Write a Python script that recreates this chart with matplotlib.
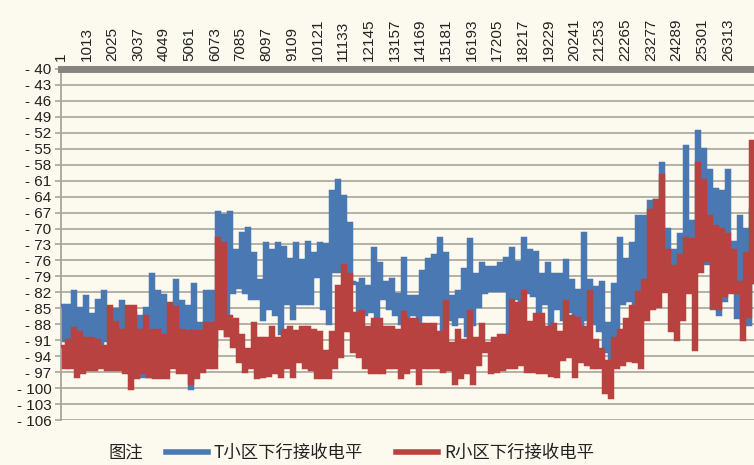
import numpy as np
import matplotlib
matplotlib.use("Agg")
import matplotlib.pyplot as plt
from matplotlib.lines import Line2D

# ---- data (per ~237-sample column: upper / lower envelope) ----
T_hi = [-84.3, -84.3, -81.8, -85, -82.7, -86, -83.5, -81.8, -86, -85.2, -83.7, -86.5, -85.8, -86.5, -85, -78.6,
        -81.8, -82.5, -86, -79.6, -83.7, -84.6, -80.5, -87.7, -81.8, -81.8, -66.8, -67.5, -66.8, -74, -70.8,
        -69.9, -74.6, -79.6, -72.7, -74, -72.7, -73.5, -75.8, -72.7, -76, -72.5, -74.6, -72.7, -73, -63,
        -60.8, -63.9, -69, -80.2, -79.5, -80.8, -73.6, -76.5, -80, -79.5, -82.4, -75.5, -82.7, -82.7, -78,
        -75.8, -75, -71.8, -74.6, -82.7, -81.8, -77.7, -72, -78.5, -76.5, -77.3, -77.3, -76.5, -75.5, -73.6,
        -76.3, -71.8, -74, -74.5, -78.5, -76.5, -78.6, -78.6, -76, -79.6, -81.5, -70.8, -79.6, -81, -80,
        -87.7, -80.5, -71.8, -75.8, -72.7, -67.7, -67.7, -64.9, -64.6, -57.7, -70, -74, -71, -54.5, -68.5,
        -51.7, -55, -58.9, -62.6, -63, -59, -72.6, -67.6, -70, -66.4]
T_lo = [-91, -92, -90, -93, -91, -92, -93, -91, -92, -96, -96, -97, -97.7, -97.7, -97.7, -96, -92, -92, -95,
        -93, -94, -100, -94, -94, -93, -92, -88, -90, -82, -81, -82, -83, -83, -87, -85, -86, -89.6, -84,
        -86.8, -84, -84, -84, -79, -85, -87.7, -78, -78, -79, -80, -89, -86, -85.5, -90, -83, -85, -86,
        -87.7, -87.7, -86, -88, -86, -86, -86, -96, -87, -88, -86.5, -90, -88, -84.6, -82, -81.5, -81.5,
        -81.5, -90, -83, -83.5, -82, -82.5, -87.5, -84, -88, -85, -87, -85.5, -93.5, -90, -87, -87.7, -89,
        -93, -95.6, -90, -84, -83.5, -84, -82.7, -82, -80, -79, -78, -78, -80.8, -79.5, -77.6, -78, -72,
        -76.5, -85, -86, -83.5, -80.3, -86.7, -87.6, -88, -80]
R_hi = [-92, -91, -88.7, -89.5, -90.5, -90.5, -91, -92, -84.6, -87.5, -89, -84.6, -84.6, -89, -86.5, -89, -89,
        -90, -84, -84.8, -89, -89.3, -89.3, -89.3, -87.7, -87.7, -71.8, -72.7, -86.5, -87, -90, -92.7, -87.7,
        -90.5, -90.5, -88.5, -90.5, -89, -88.5, -89.3, -88.5, -88.5, -89, -89.5, -93, -89.5, -80.8, -76.8,
        -78.5, -85.8, -85.5, -88.5, -87, -87, -88.5, -88.5, -89, -85.6, -87, -87, -88, -88, -88, -89.5,
        -83.6, -91.5, -89, -91, -85.5, -90.5, -88, -91.5, -90.5, -90, -90, -83.4, -84, -81.8, -87.5, -86,
        -86, -88.5, -88, -89.5, -83.6, -86.5, -86.8, -88.5, -81.8, -91, -92.7, -95, -90.5, -89, -87, -84.6,
        -82, -79.6, -66.5, -64.6, -59.9, -74, -77, -75, -71.8, -72, -57.6, -60.8, -67.6, -69.5, -70, -71,
        -74, -80, -74.6, -53.6]
R_lo = [-96, -96, -97.7, -97, -96.5, -96.5, -96, -96.5, -96.5, -96.5, -97, -100, -98, -97, -97.7, -98, -98,
        -98, -96, -97, -97, -99, -98, -96.8, -96, -96, -88.7, -90, -92, -95, -96.8, -96, -98, -97.7, -97.5,
        -97, -97.7, -96, -97.7, -95, -96, -96.5, -98, -98, -98, -96, -94, -89, -93, -94, -96, -97, -97, -97,
        -96, -96, -98, -97, -96, -99, -96, -96, -96, -96.8, -96.5, -99, -98, -97, -99, -95.5, -93, -97,
        -96.8, -96.5, -96, -96, -95.5, -96.8, -96.8, -97, -97, -97.5, -97.7, -94.5, -94, -97.7, -95, -95.5,
        -96, -96, -100.8, -101.7, -96, -95.5, -94.7, -95, -96, -87, -85, -84.5, -81.8, -89, -90.8, -87, -82,
        -92.6, -78, -76, -84.8, -85, -82.5, -82, -82, -90.8, -86.5, -80]

xtick_values = [1, 1013, 2025, 3037, 4049, 5061, 6073, 7085, 8097, 9109, 10121, 11133, 12145, 13157,
                14169, 15181, 16193, 17205, 18217, 19229, 20241, 21253, 22265, 23277, 24289, 25301, 26313]
ytick_values = list(range(-106, -39, 3))
series_names = ["T小区下行接收电平", "R小区下行接收电平"]
legend_title = "图注"

# ---- build series (alternate upper / lower envelope samples) ----
col_step = 237
n = len(T_hi)
idx = 1 + col_step / 2 * np.arange(2 * n)
T_series = np.column_stack([T_hi, T_lo]).ravel()
R_series = np.column_stack([R_hi, R_lo]).ravel()

BG = "#fcf9ee"
BLUE = "#4a78b2"
RED = "#b8423f"
GRID = "#a9a499"

plt.rcParams["font.family"] = ["Liberation Sans", "DejaVu Sans"]

fig = plt.figure(figsize=(7.54, 4.65), dpi=100)
fig.patch.set_facecolor(BG)
ax = fig.add_axes([61 / 754, 1 - 420 / 465, 1 - 61 / 754, (420 - 69) / 465])
ax.set_facecolor(BG)

ax.plot(idx, T_series, color=BLUE, lw=2.5, drawstyle="steps-mid", solid_joinstyle="miter", zorder=3)
ax.plot(idx, R_series, color=RED, lw=2.5, drawstyle="steps-mid", solid_joinstyle="miter", zorder=4)

ax.set_ylim(-106, -40)
ax.set_xlim(1, 27340)
ax.set_yticks(ytick_values)
ax.set_yticklabels([f"- {abs(v)}" for v in ytick_values], fontsize=11, color="#222222")
ax.yaxis.grid(True, color=GRID, lw=1.2)
ax.set_axisbelow(True)

ax.xaxis.tick_top()
ax.set_xticks(xtick_values)
ax.set_xticklabels([str(v) for v in xtick_values], rotation=90, fontsize=11, color="#222222")
ax.tick_params(axis="x", length=0, pad=6)
ax.tick_params(axis="y", length=4, width=1.2, color=GRID, pad=3)

for s in ["right", "bottom"]:
    ax.spines[s].set_visible(False)
ax.spines["left"].set_color(GRID)
ax.spines["left"].set_linewidth(1.3)
ax.spines["top"].set_color("#87847f")
ax.spines["top"].set_linewidth(5)

# legend
cjk = ["Noto Sans CJK SC", "DejaVu Sans"]
fig.text(108 / 754, 1 - 453 / 465, legend_title, fontsize=12.5, family=cjk,
         ha="left", va="center", color="#222222")
handles = [Line2D([], [], color=BLUE, lw=4), Line2D([], [], color=RED, lw=4)]
fig.legend(handles, series_names, loc="center left", bbox_to_anchor=(166 / 754, 1 - 453 / 465),
           ncol=2, frameon=False, prop={"family": cjk, "size": 12.5}, handlelength=2.4,
           handletextpad=0.35, columnspacing=1.9, borderpad=0, borderaxespad=0, labelcolor="#222222")

fig.savefig("out.png", dpi=100, facecolor=BG)
